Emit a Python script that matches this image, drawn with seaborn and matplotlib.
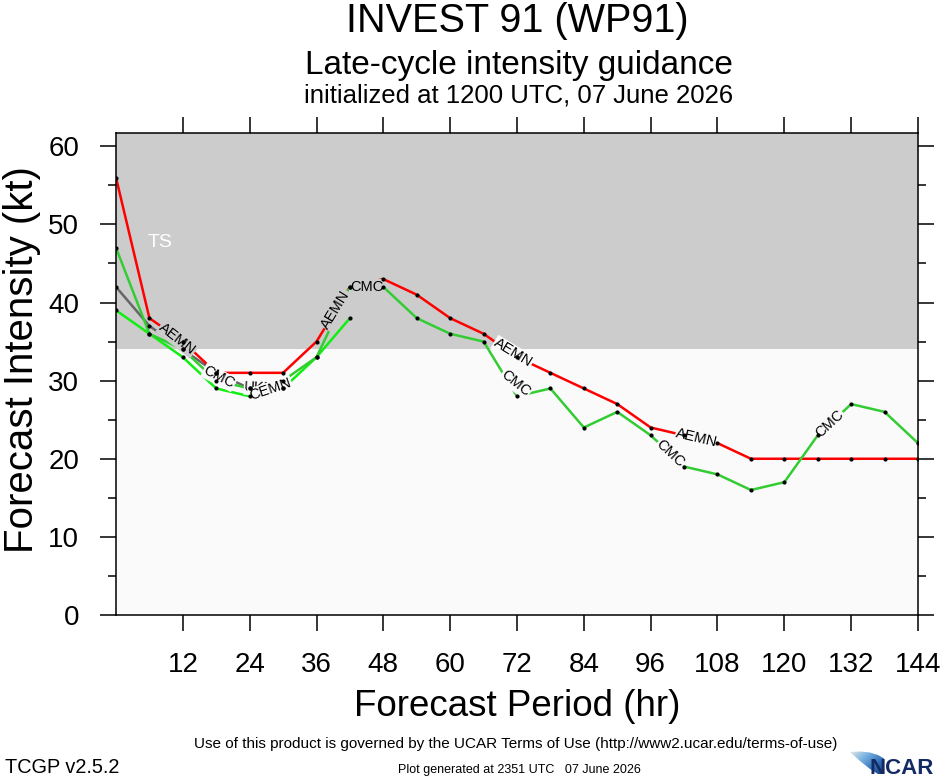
import numpy as np
import pandas as pd
import matplotlib
matplotlib.use('Agg')
import matplotlib.pyplot as plt
from matplotlib.colors import LinearSegmentedColormap
import seaborn as sns

# forecast hours and intensities (kt)
hours = list(range(0, 145, 6))
aemn = [56, 38, 35, 31, 31, 31, 35, 42, 43, 41, 38, 36, 33, 31, 29, 27, 24, 23, 22, 20, 20, 20, 20, 20, 20]
cmc = [47, 36, 34, 30, 29, 30, 33, 42, 42, 38, 36, 35, 28, 29, 24, 26, 23, 19, 18, 16, 17, 23, 27, 26, 22]
ukm_hours = [0, 6, 12, 18, 24, 30]
ukm = [42, 37, 34, 31, 29, 29]
cemn_hours = [0, 6, 12, 18, 24, 30, 36, 42]
cemn = [39, 36, 33, 29, 28, 29, 33, 38]

models = ['UKM', 'AEMN', 'CEMN', 'CMC']
colors = {'UKM': '#666666', 'AEMN': '#ff0000', 'CEMN': '#11ee11', 'CMC': '#33cc33'}

# where the model names sit on the lines (model, from hr, to hr)
line_labels = [('AEMN', 8, 14), ('CMC', 16, 21), ('UKM', 23.5, 28.5), ('CEMN', 24.5, 31),
               ('AEMN', 37.5, 41.5), ('CMC', 42.5, 47.5), ('AEMN', 68, 74.6), ('CMC', 69.5, 74),
               ('AEMN', 101, 107.6), ('CMC', 97.3, 101.8), ('CMC', 126, 130.4)]

ts_min = 34
y_top = 61.7

series = {'UKM': (ukm_hours, ukm), 'AEMN': (hours, aemn), 'CEMN': (cemn_hours, cemn), 'CMC': (hours, cmc)}
frames = []
for name in models:
    h, v = series[name]
    frames.append(pd.DataFrame({'hour': h, 'kt': v, 'model': name}))
df = pd.concat(frames, ignore_index=True)

sns.set_style('ticks')
plt.rcParams['font.family'] = ['Liberation Sans', 'DejaVu Sans']
plt.rcParams['text.color'] = 'black'
plt.rcParams['xtick.color'] = 'black'
plt.rcParams['ytick.color'] = 'black'
plt.rcParams['axes.labelcolor'] = 'black'

fig = plt.figure(figsize=(9.4, 7.8), dpi=100)
ax = fig.add_axes([116/940, 1-615/780, (918-116)/940, (615-133)/780])
ax.set_facecolor('#fafafa')
ax.axhspan(ts_min, y_top, color='#cccccc', lw=0, zorder=0)

sns.lineplot(data=df, x='hour', y='kt', hue='model', hue_order=models, palette=colors,
             lw=1.8, legend=False, sort=False, estimator=None, ax=ax, zorder=2)
sns.scatterplot(data=df, x='hour', y='kt', color='black', s=9, linewidth=0, ax=ax, zorder=5)

for name, t0, t1 in line_labels:
    h, v = series[name]
    v0 = np.interp(t0, h, v)
    v1 = np.interp(t1, h, v)
    vm = (v0 + v1) / 2
    ang = np.degrees(np.arctan2(v1 - v0, t1 - t0))
    bg = '#cccccc' if vm > ts_min else '#fafafa'
    ax.text((t0 + t1) / 2, vm, name, rotation=ang, transform_rotates_text=True,
            rotation_mode='anchor', ha='center', va='center', fontsize=10.5, color='black',
            bbox=dict(boxstyle='square,pad=0.05', fc=bg, ec='none'), zorder=4)

ax.text(8, 47.7, 'TS', color='white', fontsize=14, ha='center', va='center')

ax.set_xlim(0, 144)
ax.set_ylim(0, y_top)
ax.set_xticks(range(12, 145, 12))
ax.set_yticks(range(0, 61, 10))
ax.set_yticks(range(5, 60, 10), minor=True)
ax.tick_params(which='major', direction='out', length=11.5, width=1.1, labelsize=20, pad=15,
               top=True, right=True, colors='black')
ax.tick_params(axis='y', which='minor', direction='out', length=5.8, width=1.1, left=True, right=True)
ax.set_xlabel('')
ax.set_ylabel('')
for s in ax.spines.values():
    s.set_linewidth(1.1)
    s.set_color('black')

fig.text(517/940, 1-32/780, 'INVEST 91 (WP91)', ha='center', va='baseline', fontsize=28.5)
fig.text(519/940, 1-74/780, 'Late-cycle intensity guidance', ha='center', va='baseline', fontsize=24)
fig.text(519/940, 1-103/780, 'initialized at 1200 UTC, 07 June 2026', ha='center', va='baseline', fontsize=18.5)

fig.text(22/940, 1-360/780, 'Forecast Intensity (kt)', rotation=90, ha='center', va='center', fontsize=29)
fig.text(517/940, 1-706/780, 'Forecast Period (hr)', ha='center', va='center', fontsize=26.5)

fig.text(516/940, 1-748/780, 'Use of this product is governed by the UCAR Terms of Use (http://www2.ucar.edu/terms-of-use)',
         ha='center', va='baseline', fontsize=11)
fig.text(5/940, 1-773/780, 'TCGP v2.5.2', ha='left', va='baseline', fontsize=14.3)
fig.text(519/940, 1-773/780, 'Plot generated at 2351 UTC   07 June 2026', ha='center', va='baseline', fontsize=9)
fig.text(934/940, 1-774/780, 'NCAR', ha='right', va='baseline', fontsize=16, fontweight='bold', color='#142a63')

# swoosh of the NCAR logo
lax = fig.add_axes([848/940, 5/780, 40/940, 25/780])
lax.set_xlim(848, 888)
lax.set_ylim(775, 750)
lax.axis('off')
swoosh = plt.Polygon([(850, 752), (860, 751.5), (870, 752.5), (878, 755), (884, 758.5),
                      (884, 774), (878, 774), (870, 769), (860, 761)], closed=True, fc='none', ec='none')
lax.add_patch(swoosh)
gx, gy = np.meshgrid(np.linspace(0, 1, 60), np.linspace(0, 1, 40))
logo_cmap = LinearSegmentedColormap.from_list('ncar', ['#f5f0e0', '#7fb6e3', '#2f6fb8', '#142a63'])
im = lax.imshow(0.6 * gx + 0.4 * gy, cmap=logo_cmap, extent=(848, 888, 775, 750), aspect='auto')
im.set_clip_path(swoosh)

fig.savefig('out.png', dpi=100)
